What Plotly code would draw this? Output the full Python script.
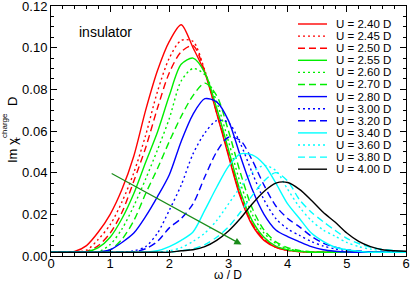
import plotly.graph_objects as go

omega = [0.0, 0.2, 0.4, 0.6, 0.8, 1.0, 1.2, 1.4, 1.6, 1.8, 2.0, 2.2, 2.4, 2.6, 2.8, 3.0,
         3.2, 3.4, 3.6, 3.8, 4.0, 4.2, 4.4, 4.6, 4.8, 5.0, 5.2, 5.4, 5.6, 5.8, 6.0]

u240 = [0.0018, 0.0018, 0.0022, 0.0050, 0.0115, 0.0200, 0.0320, 0.0480, 0.0700, 0.0890, 0.1030, 0.1110,
        0.1000, 0.0880, 0.0685, 0.0480, 0.0283, 0.0148, 0.0075, 0.0042, 0.0027, 0.0021,
        0.0018, 0.0018, 0.0018, 0.0018, 0.0018, 0.0018, 0.0018, 0.0018, 0.0018]
u245 = [0.0018, 0.0018, 0.0019, 0.0028, 0.0080, 0.0150, 0.0260, 0.0400, 0.0580, 0.0790, 0.0950, 0.1035,
        0.1030, 0.0890, 0.0690, 0.0490, 0.0290, 0.0155, 0.0080, 0.0043, 0.0027, 0.0021,
        0.0018, 0.0018, 0.0018, 0.0018, 0.0018, 0.0018, 0.0018, 0.0018, 0.0018]
u250 = [0.0018, 0.0018, 0.0018, 0.0022, 0.0050, 0.0110, 0.0210, 0.0360, 0.0520, 0.0710, 0.0880, 0.0980,
        0.1010, 0.0885, 0.0690, 0.0490, 0.0290, 0.0155, 0.0080, 0.0043, 0.0027, 0.0021,
        0.0018, 0.0018, 0.0018, 0.0018, 0.0018, 0.0018, 0.0018, 0.0018, 0.0018]
u255 = [0.0018, 0.0018, 0.0018, 0.0020, 0.0040, 0.0090, 0.0180, 0.0300, 0.0450, 0.0595, 0.0770, 0.0920,
        0.0950, 0.0880, 0.0710, 0.0510, 0.0310, 0.0170, 0.0090, 0.0048, 0.0030, 0.0022,
        0.0018, 0.0018, 0.0018, 0.0018, 0.0018, 0.0018, 0.0018, 0.0018, 0.0018]
u260 = [0.0018, 0.0018, 0.0018, 0.0018, 0.0020, 0.0055, 0.0130, 0.0240, 0.0370, 0.0510, 0.0660, 0.0840,
        0.0900, 0.0870, 0.0740, 0.0550, 0.0350, 0.0200, 0.0110, 0.0060, 0.0035, 0.0024,
        0.0019, 0.0018, 0.0018, 0.0018, 0.0018, 0.0018, 0.0018, 0.0018, 0.0018]
u270 = [0.0018, 0.0018, 0.0018, 0.0018, 0.0019, 0.0030, 0.0080, 0.0170, 0.0300, 0.0420, 0.0550, 0.0670,
        0.0770, 0.0830, 0.0770, 0.0600, 0.0400, 0.0230, 0.0125, 0.0068, 0.0040, 0.0027,
        0.0020, 0.0018, 0.0018, 0.0018, 0.0018, 0.0018, 0.0018, 0.0018, 0.0018]
u280 = [0.0018, 0.0018, 0.0018, 0.0018, 0.0019, 0.0030, 0.0065, 0.0110, 0.0190, 0.0285, 0.0390, 0.0550,
        0.0680, 0.0755, 0.0740, 0.0650, 0.0480, 0.0320, 0.0200, 0.0125, 0.0093, 0.0068,
        0.0045, 0.0030, 0.0023, 0.0019, 0.0018, 0.0018, 0.0018, 0.0018, 0.0018]
u300 = [0.0018, 0.0018, 0.0018, 0.0018, 0.0018, 0.0018, 0.0019, 0.0025, 0.0045, 0.0110, 0.0220, 0.0340,
        0.0490, 0.0590, 0.0650, 0.0640, 0.0540, 0.0400, 0.0270, 0.0180, 0.0130, 0.0099,
        0.0070, 0.0048, 0.0034, 0.0026, 0.0021, 0.0018, 0.0018, 0.0018, 0.0018]
u320 = [0.0018, 0.0018, 0.0018, 0.0018, 0.0018, 0.0018, 0.0018, 0.0020, 0.0035, 0.0070, 0.0135, 0.0180,
        0.0250, 0.0380, 0.0500, 0.0570, 0.0555, 0.0460, 0.0340, 0.0240, 0.0180, 0.0140,
        0.0095, 0.0062, 0.0042, 0.0030, 0.0024, 0.0020, 0.0018, 0.0018, 0.0018]
u340 = [0.0018, 0.0018, 0.0018, 0.0018, 0.0018, 0.0018, 0.0018, 0.0018, 0.0018, 0.0025, 0.0045, 0.0075,
        0.0115, 0.0220, 0.0330, 0.0430, 0.0490, 0.0485, 0.0440, 0.0350, 0.0250, 0.0180,
        0.0110, 0.0070, 0.0042, 0.0030, 0.0023, 0.0018, 0.0018, 0.0018, 0.0018]
u360 = [0.0018, 0.0018, 0.0018, 0.0018, 0.0018, 0.0018, 0.0018, 0.0018, 0.0018, 0.0018, 0.0025, 0.0040,
        0.0070, 0.0110, 0.0170, 0.0250, 0.0330, 0.0400, 0.0435, 0.0410, 0.0320, 0.0235,
        0.0170, 0.0125, 0.0095, 0.0065, 0.0045, 0.0033, 0.0027, 0.0022, 0.0019]
u380 = [0.0018, 0.0018, 0.0018, 0.0018, 0.0018, 0.0018, 0.0018, 0.0018, 0.0018, 0.0018, 0.0018, 0.0025,
        0.0035, 0.0055, 0.0090, 0.0140, 0.0210, 0.0290, 0.0360, 0.0400, 0.0360, 0.0270,
        0.0210, 0.0165, 0.0123, 0.0085, 0.0060, 0.0042, 0.0032, 0.0026, 0.0022]
u400 = [0.0018, 0.0018, 0.0018, 0.0018, 0.0018, 0.0018, 0.0018, 0.0018, 0.0018, 0.0018, 0.0018, 0.0025,
        0.0030, 0.0045, 0.0075, 0.0120, 0.0180, 0.0250, 0.0310, 0.0350, 0.0353, 0.0320,
        0.0268, 0.0210, 0.0163, 0.0110, 0.0070, 0.0045, 0.0030, 0.0025, 0.0023]

labels = ["U = 2.40 D", "U = 2.45 D", "U = 2.50 D", "U = 2.55 D", "U = 2.60 D", "U = 2.70 D",
          "U = 2.80 D", "U = 3.00 D", "U = 3.20 D", "U = 3.40 D", "U = 3.60 D", "U = 3.80 D",
          "U = 4.00 D"]
series = [u240, u245, u250, u255, u260, u270, u280, u300, u320, u340, u360, u380, u400]

x_ticks = [0, 1, 2, 3, 4, 5, 6]
y_ticks = [0.00, 0.02, 0.04, 0.06, 0.08, 0.10, 0.12]
y_tick_text = ["0.00", "0.02", "0.04", "0.06", "0.08", "0.10", "0.12"]

RED, GREEN, BLUE, CYAN, BLACK = "#ff0000", "#00ee00", "#0000ff", "#00ffff", "#000000"
colors = [RED, RED, RED, GREEN, GREEN, GREEN, BLUE, BLUE, BLUE, CYAN, CYAN, CYAN, BLACK]
DOT, DASH = "2px,3px", "7px,4px"
dashes = ["solid", DOT, DASH, "solid", DOT, DASH, "solid", DOT, DASH, "solid", DOT, DASH, "solid"]

FONT = "Liberation Sans, Arial, Helvetica, sans-serif"

fig = go.Figure()
for lab, vals, col, dsh in zip(labels, series, colors, dashes):
    fig.add_trace(go.Scatter(x=omega, y=vals, mode="lines", name=lab,
                             line=dict(color=col, width=1.4, dash=dsh, shape="spline", smoothing=0.8),
                             showlegend=False))

L, R, T, B = 51, 5, 6, 25
W, H = 411, 281
pw, ph = W - L - R, H - T - B


def px_x(px):
    return (px - L) / pw


def px_y(py):
    return (H - B - py) / ph


shapes = []
annotations = []
# hand-drawn legend (compact spacing as in reference)
for i, (lab, col, dsh) in enumerate(zip(labels, colors, dashes)):
    yp = px_y(24 + 12.1 * i)
    shapes.append(dict(type="line", xref="paper", yref="paper",
                       x0=px_x(298), x1=px_x(327), y0=yp, y1=yp,
                       line=dict(color=col, width=1.4, dash=dsh)))
    annotations.append(dict(xref="paper", yref="paper", x=px_x(334), y=yp, text=lab,
                            showarrow=False, xanchor="left", yanchor="middle",
                            font=dict(family=FONT, size=11.5, color="black")))

annotations.append(dict(xref="paper", yref="paper", x=px_x(77), y=px_y(32),
                        text="insulator", showarrow=False, xanchor="left", yanchor="middle",
                        font=dict(family=FONT, size=14, color="black")))
annotations.append(dict(xref="x", yref="y", axref="x", ayref="y", x=3.22, y=0.0055,
                        ax=1.0, ay=0.040, text="", showarrow=True, arrowhead=2,
                        arrowsize=1.2, arrowwidth=1.2, arrowcolor="#1a8c1a"))

# axis titles
annotations.append(dict(xref="paper", yref="paper", x=px_x(228), y=px_y(274.5), text="ω / D",
                        showarrow=False, xanchor="center", yanchor="middle",
                        font=dict(family=FONT, size=12, color="black")))
ytitle_parts = [("Im χ", 13, 12, 151), ("charge", 8, 4, 126), ("+", 9, 17, 140), ("D", 13, 12, 102)]
for txt, sz, xx, yy in ytitle_parts:
    annotations.append(dict(xref="paper", yref="paper", x=px_x(xx), y=px_y(yy), text=txt,
                            textangle=-90, showarrow=False, xanchor="center", yanchor="middle",
                            font=dict(family=FONT, size=sz, color="black")))

axis_common = dict(showline=True, linecolor="black", linewidth=1, mirror="allticks",
                   ticks="inside", ticklen=6, tickwidth=1, tickcolor="black",
                   showgrid=False, zeroline=False, automargin=False,
                   ticklabeloverflow="allow",
                   tickfont=dict(family=FONT, size=13, color="black"))

fig.update_layout(
    width=W, height=H,
    margin=dict(l=L, r=R, t=T, b=B),
    paper_bgcolor="white", plot_bgcolor="white",
    shapes=shapes, annotations=annotations,
    xaxis=dict(range=[0, 6], tickvals=x_ticks, ticklabelstandoff=-5,
               minor=dict(dtick=0.2, tick0=0, ticklen=3, ticks="inside", tickcolor="black"),
               **axis_common),
    yaxis=dict(range=[0, 0.12], tickvals=y_ticks, ticktext=y_tick_text,
               minor=dict(dtick=0.005, tick0=0, ticklen=3, ticks="inside", tickcolor="black"),
               **axis_common),
)

fig.write_html("out.html", config={"displayModeBar": False},
               post_script="document.body.style.margin='0';document.body.style.overflow='hidden';")
